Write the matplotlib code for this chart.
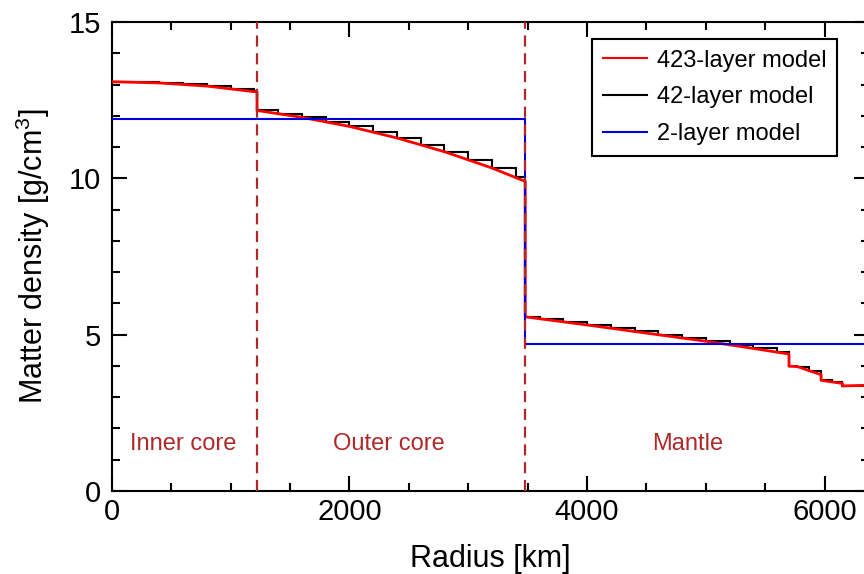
import matplotlib
matplotlib.use("Agg")
import matplotlib.pyplot as plt
from matplotlib.ticker import MultipleLocator

plt.rcParams['font.family'] = ['Liberation Sans', 'DejaVu Sans']
plt.rcParams['mathtext.fontset'] = 'custom'
plt.rcParams['mathtext.rm'] = 'Liberation Sans'
plt.rcParams['mathtext.default'] = 'regular'

red_r = [0, 400, 800, 1221.5, 1221.5, 1600, 2000, 2400, 2800, 3200, 3480,
         3480, 4000, 4500, 5000, 5400, 5701, 5701, 5771, 5971, 5971, 6151,
         6151, 6346.6, 6346.6, 6356, 6356, 6368, 6368, 6371]
red_rho = [13.09, 13.05, 12.95, 12.76, 12.17, 11.95, 11.66, 11.29, 10.85, 10.33, 9.90,
           5.57, 5.31, 5.05, 4.79, 4.56, 4.38, 3.99, 3.98, 3.72, 3.54, 3.44,
           3.36, 3.38, 2.90, 2.90, 2.60, 2.60, 1.02, 1.02]

# 42-layer model: layer edges and density of each layer
black_edges = [0, 200, 400, 600, 800, 1000, 1200, 1221.5, 1400, 1600, 1800, 2000,
               2200, 2400, 2600, 2800, 3000, 3200, 3400, 3480, 3600, 3800, 4000,
               4200, 4400, 4600, 4800, 5000, 5200, 5400, 5600, 5701, 5771, 5871,
               5971, 6061, 6151, 6251, 6346.6, 6356, 6368, 6371]
black_rho = [13.09, 13.08, 13.05, 13.01, 12.95, 12.87, 12.78,
             12.17, 12.07, 11.95, 11.81, 11.66, 11.48, 11.29, 11.08, 10.85, 10.60, 10.33, 10.03,
             5.57, 5.51, 5.41, 5.31, 5.21, 5.11, 5.00, 4.90, 4.79, 4.68, 4.56, 4.44,
             3.99, 3.98, 3.85, 3.54, 3.49, 3.36, 3.37, 2.90, 2.60, 1.02]

# 2-layer model
blue_edges = [0, 3480, 6371]
blue_rho = [11.9, 4.7]

boundaries = [1221.5, 3480]
region_names = ["Inner core", "Outer core", "Mantle"]
region_x = [602, 2335, 4850]

fig = plt.figure(figsize=(8.64, 5.74), dpi=100)
ax = fig.add_axes([0.1296, 0.1446, 0.8757, 0.8171])

ax.stairs(black_rho, black_edges, baseline=None, color='black', lw=1.5,
          label='42-layer model', zorder=2)
ax.plot(red_r, red_rho, color='red', lw=2, label='423-layer model', zorder=3)
ax.stairs(blue_rho, blue_edges, baseline=None, color='#0000dd', lw=1.5,
          label='2-layer model', zorder=4)

for b in boundaries:
    ax.axvline(b, color='#b02828', lw=1.6, ls=(0, (5, 3)), zorder=5)
for name, x in zip(region_names, region_x):
    ax.text(x, 1.5, name, color='#b02828', fontsize=17, ha='center', va='center')

ax.set_xlim(0, 6371)
ax.set_ylim(0, 15)
ax.xaxis.set_major_locator(MultipleLocator(2000))
ax.xaxis.set_minor_locator(MultipleLocator(500))
ax.yaxis.set_major_locator(MultipleLocator(5))
ax.yaxis.set_minor_locator(MultipleLocator(1))
ax.tick_params(which='both', direction='in', top=True, right=True, width=1.5,
               labelsize=21)
ax.tick_params(which='major', length=11)
ax.tick_params(which='minor', length=6)
ax.tick_params(axis='x', pad=5)
ax.tick_params(axis='y', pad=8)
for s in ax.spines.values():
    s.set_linewidth(1.5)

ax.set_xlabel("Radius [km]", fontsize=22)
ax.set_ylabel("Matter density [g/cm$^3$]", fontsize=22)
ax.xaxis.set_label_coords(0.5, -0.113)
ax.yaxis.set_label_coords(-0.079, 0.5)

h, l = ax.get_legend_handles_labels()
order = [1, 0, 2]
leg = ax.legend([h[i] for i in order], [l[i] for i in order],
                loc='upper left', bbox_to_anchor=(592 / 864, 1 - 39 / 574),
                bbox_transform=fig.transFigure, borderaxespad=0, fontsize=17,
                fancybox=False, framealpha=1, edgecolor='black',
                handlelength=1.9, handletextpad=0.4, labelspacing=0.62,
                borderpad=0.45)
leg.get_frame().set_linewidth(1.5)
for line in leg.get_lines():
    line.set_linewidth(1.5)

fig.savefig("out.png", dpi=100)
